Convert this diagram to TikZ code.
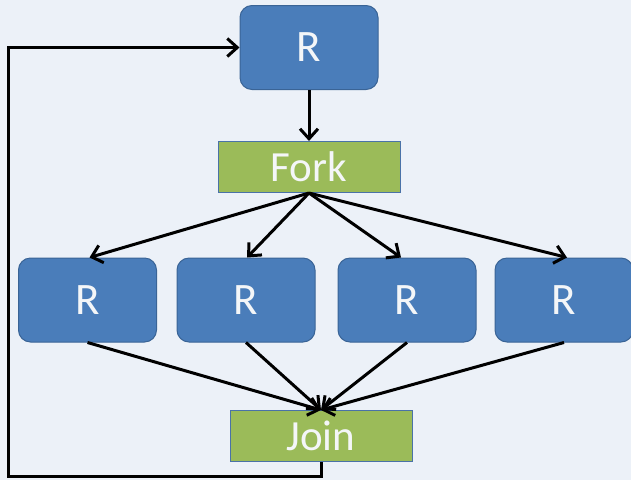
\documentclass[tikz,border=0pt]{standalone}
\usepackage{fontspec}
\setmainfont{Carlito}
\usetikzlibrary{arrows.meta}
\definecolor{bgc}{HTML}{ECF1F8}
\definecolor{bluefill}{HTML}{4A7DBA}
\definecolor{blueline}{HTML}{3A6496}
\definecolor{greenfill}{HTML}{9BBB59}
\definecolor{greenline}{HTML}{4A72A8}
\definecolor{txt}{HTML}{F4F6F8}
\begin{document}
\begin{tikzpicture}[x=1pt,y=-1pt,
  rbox/.style={draw=blueline,line width=1pt,fill=bluefill,rounded corners=12pt,minimum width=138pt,minimum height=84pt,inner sep=0pt,text=txt,font=\fontsize{45}{45}\selectfont},
  gbox/.style={draw=greenline,line width=1pt,fill=greenfill,minimum width=182pt,minimum height=51pt,inner sep=0pt,text=txt,font=\fontsize{43}{43}\selectfont},
  conn/.style={line width=3pt,-{Straight Barb[length=10pt,width=18pt,line width=3pt]}}]
\fill[bgc] (0,0) rectangle (631,480);
\useasboundingbox (0,0) rectangle (631,480);
\node[rbox] (top) at (309,47.5) {R};
\node[gbox] (fork) at (309,167) {Fork};
\node[rbox] (b1) at (87.5,300) {R};
\node[rbox] (b2) at (246,300) {R};
\node[rbox] (b3) at (407,300) {R};
\node[rbox] (b4) at (564,300) {R};
\node[gbox] (join) at (321,436) {Join};
\coordinate (c1) at (321,476);
\coordinate (c2) at (8,476);
\coordinate (c3) at (8,47.5);
\draw[conn] (top.south) -- (fork.north);
\draw[conn] (fork.south) -- ([xshift=2pt]b1.north);
\draw[conn] (fork.south) -- ([xshift=1pt]b2.north);
\draw[conn] (fork.south) -- ([xshift=-6pt]b3.north);
\draw[conn] (fork.south) -- ([xshift=3pt]b4.north);
\draw[conn] (b1.south) -- (join.north);
\draw[conn] (b2.south) -- (join.north);
\draw[conn] (b3.south) -- (join.north);
\draw[conn] (b4.south) -- (join.north);
\draw[conn] (join.south) -- (c1) -- (c2) -- (c3) -- (top.west);
\end{tikzpicture}
\end{document}
